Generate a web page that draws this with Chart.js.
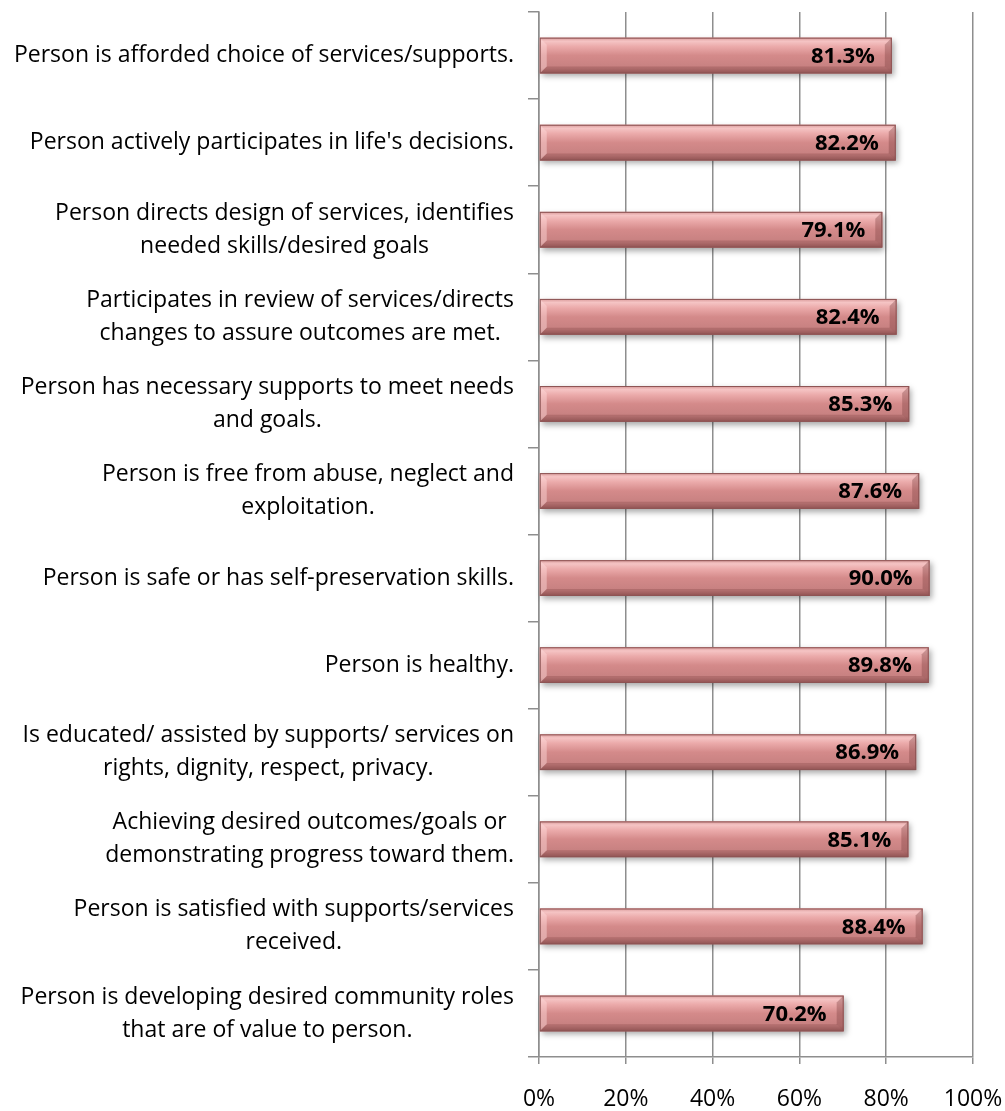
<!DOCTYPE html>
<html>
<head>
<meta charset="utf-8">
<script src="https://cdn.jsdelivr.net/npm/chart.js@4.4.1/dist/chart.umd.min.js"></script>
<style>
  html, body { margin: 0; padding: 0; background: #ffffff; overflow: hidden; }
  canvas { display: block; }
</style>
</head>
<body>
<canvas id="outcomesChart" width="1005" height="1111"></canvas>
<script>
var categories = [
    ['Person is afforded choice of services/supports.'],
    ["Person actively participates in life's decisions."],
    ['Person directs design of services, identifies', 'needed skills/desired goals'],
    ['Participates in review of services/directs', 'changes to assure outcomes are met.'],
    ['Person has necessary supports to meet needs', 'and goals.'],
    ['Person is free from abuse, neglect and', 'exploitation.'],
    ['Person is safe or has self-preservation skills.'],
    ['Person is healthy.'],
    ['Is educated/ assisted by supports/ services on', 'rights, dignity, respect, privacy.'],
    ['Achieving desired outcomes/goals or', 'demonstrating progress toward them.'],
    ['Person is satisfied with supports/services', 'received.'],
    ['Person is developing desired community roles', 'that are of value to person.']
];
var percentMet = [81.3, 82.2, 79.1, 82.4, 85.3, 87.6, 90.0, 89.8, 86.9, 85.1, 88.4, 70.2];
var xTicks = [0, 20, 40, 60, 80, 100];

var FONT = '"Open Sans", "Liberation Sans", sans-serif';
var GRID = '#8e8e8e';

// bevelled pink bars with a soft drop shadow, value printed at the bar end
var bevelBars = {
    id: 'bevelBars',
    afterDatasetsDraw: function (chart) {
        var ctx = chart.ctx;
        var meta = chart.getDatasetMeta(0);
        meta.data.forEach(function (bar, i) {
            var x0 = bar.base, x1 = bar.x;
            var y0 = bar.y - bar.height / 2, y1 = bar.y + bar.height / 2;
            var h = y1 - y0, w = x1 - x0;

            ctx.save();
            ctx.shadowColor = 'rgba(0,0,0,0.35)';
            ctx.shadowBlur = 6;
            ctx.shadowOffsetX = 2;
            ctx.shadowOffsetY = 3;
            ctx.fillStyle = '#c47f7f';
            ctx.fillRect(x0, y0, w, h);
            ctx.restore();

            var g = ctx.createLinearGradient(0, y0, 0, y1);
            g.addColorStop(0, '#d99a9a');
            g.addColorStop(0.1, '#f5c4c4');
            g.addColorStop(0.25, '#ebaaaa');
            g.addColorStop(0.5, '#d48a8a');
            g.addColorStop(0.85, '#c68080');
            g.addColorStop(1, '#9c5e5e');
            ctx.save();
            ctx.fillStyle = g;
            ctx.fillRect(x0, y0, w, h);

            var b = 7;
            // left facet
            ctx.fillStyle = 'rgba(255,220,220,0.45)';
            ctx.beginPath();
            ctx.moveTo(x0, y0); ctx.lineTo(x0 + b, y0 + b);
            ctx.lineTo(x0 + b, y1 - b); ctx.lineTo(x0, y1);
            ctx.closePath(); ctx.fill();
            // right facet
            ctx.fillStyle = 'rgba(120,60,60,0.35)';
            ctx.beginPath();
            ctx.moveTo(x1, y0); ctx.lineTo(x1 - b, y0 + b);
            ctx.lineTo(x1 - b, y1 - b); ctx.lineTo(x1, y1);
            ctx.closePath(); ctx.fill();
            // bottom facet
            ctx.fillStyle = 'rgba(110,50,50,0.25)';
            ctx.beginPath();
            ctx.moveTo(x0, y1); ctx.lineTo(x0 + b, y1 - b);
            ctx.lineTo(x1 - b, y1 - b); ctx.lineTo(x1, y1);
            ctx.closePath(); ctx.fill();

            ctx.strokeStyle = '#8d5454';
            ctx.lineWidth = 1;
            ctx.strokeRect(x0 + 0.5, y0 + 0.5, w - 1, h - 1);

            ctx.fillStyle = '#000000';
            ctx.font = 'bold 22px ' + FONT;
            ctx.textAlign = 'right';
            ctx.textBaseline = 'middle';
            ctx.fillText(percentMet[i].toFixed(1) + '%', x1 - 17, bar.y + 1);
            ctx.restore();
        });
    }
};

// category labels: each block right-aligned to the axis, lines centred within it
var categoryLabels = {
    id: 'categoryLabels',
    afterDraw: function (chart) {
        var ctx = chart.ctx;
        var yScale = chart.scales.y;
        var right = yScale.right - 25;
        ctx.save();
        ctx.font = '23px ' + FONT;
        ctx.fillStyle = '#000000';
        ctx.textAlign = 'center';
        ctx.textBaseline = 'middle';
        categories.forEach(function (lines, i) {
            var y = yScale.getPixelForValue(i);
            var widest = 0;
            lines.forEach(function (l) { widest = Math.max(widest, ctx.measureText(l).width); });
            var cx = right - widest / 2;
            lines.forEach(function (l, j) {
                ctx.fillText(l, cx, y + (j - (lines.length - 1) / 2) * 33);
            });
        });
        ctx.restore();
    }
};

var ctx = document.getElementById('outcomesChart').getContext('2d');
var outcomesChart = new Chart(ctx, {
    type: 'bar',
    data: {
        labels: categories,
        datasets: [{
            data: percentMet,
            backgroundColor: 'rgba(0,0,0,0)',
            borderWidth: 0,
            barPercentage: 0.41,
            categoryPercentage: 1
        }]
    },
    options: {
        indexAxis: 'y',
        responsive: false,
        animation: false,
        layout: { padding: { top: 12, right: 32, left: 0, bottom: 0 } },
        plugins: {
            legend: { display: false },
            tooltip: { enabled: false }
        },
        scales: {
            x: {
                min: 0,
                max: 100,
                afterBuildTicks: function (scale) {
                    scale.ticks = xTicks.map(function (v) { return { value: v }; });
                },
                afterFit: function (scale) {
                    scale.height = 54;
                    scale.paddingLeft = 0;
                    scale.paddingRight = 0;
                },
                grid: { color: GRID, lineWidth: 1.5, tickLength: 7, tickColor: GRID },
                border: { display: true, color: GRID, width: 1.5 },
                ticks: {
                    padding: 22,
                    color: '#000000',
                    font: { family: FONT, size: 23 },
                    callback: function (v) { return v + '%'; }
                }
            },
            y: {
                afterFit: function (scale) { scale.width = 539; },
                grid: { drawOnChartArea: false, offset: true, color: GRID, lineWidth: 1.5, tickLength: 11, tickColor: GRID },
                border: { display: true, color: GRID, width: 1.5 },
                ticks: { display: false }
            }
        }
    },
    plugins: [bevelBars, categoryLabels]
});
</script>
</body>
</html>
